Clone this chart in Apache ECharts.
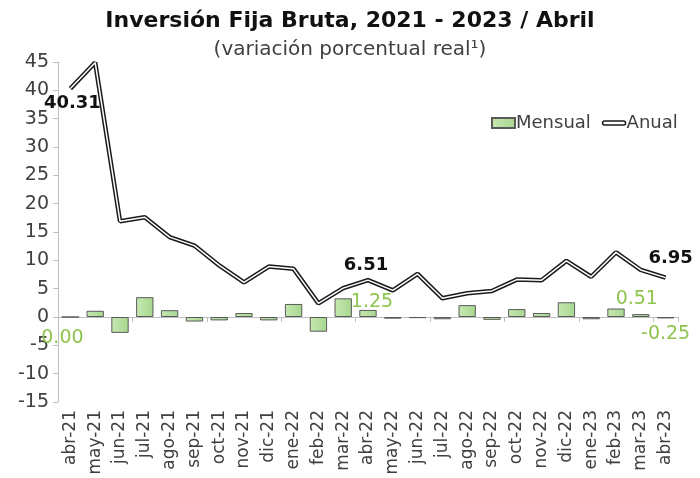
<!DOCTYPE html>
<html>
<head>
<meta charset="utf-8">
<script src="https://cdn.jsdelivr.net/npm/echarts@6/dist/echarts.min.js"></script>
<style>html,body{margin:0;padding:0;background:#fff;}#c{width:700px;height:478px;}</style>
</head>
<body>
<div id="c"></div>
<script>
const categories = ['abr-21','may-21','jun-21','jul-21','ago-21','sep-21','oct-21','nov-21','dic-21','ene-22','feb-22','mar-22','abr-22','may-22','jun-22','jul-22','ago-22','sep-22','oct-22','nov-22','dic-22','ene-23','feb-23','mar-23','abr-23'];
const mensual = [0.00, 1.1, -2.8, 3.5, 1.2, -0.8, -0.6, 0.7, -0.6, 2.3, -2.6, 3.3, 1.25, -0.3, -0.2, -0.4, 2.1, -0.5, 1.4, 0.7, 2.6, -0.4, 1.5, 0.51, -0.25];
const anual = [40.31, 44.9, 16.9, 17.6, 14.1, 12.6, 9.1, 6.1, 8.9, 8.5, 2.4, 5.1, 6.51, 4.7, 7.6, 3.3, 4.2, 4.6, 6.6, 6.5, 9.9, 7.1, 11.4, 8.3, 6.95];
const yTicks = { min: -15, max: 45, step: 5 };

const FONT = '"DejaVu Sans", sans-serif';
const GREEN = '#8fc44f';

const anualLabels = {
  0: { position: 'bottom', offset: [2, 0] },
  12: { position: 'top', offset: [-2, 0] },
  24: { position: 'top', offset: [5, -5] }
};
const mensualLabels = {
  0: { position: 'bottom', offset: [-8, 6] },
  12: { position: 'top', offset: [4, 7] },
  23: { position: 'top', offset: [-4, -1] },
  24: { position: 'bottom', offset: [0, 1] }
};

const anualData = anual.map((v, i) => {
  const l = anualLabels[i];
  if (!l) return v;
  return { value: v, label: { show: true, position: l.position, offset: l.offset,
    formatter: p => p.value.toFixed(2), color: '#111', fontWeight: 'bold', fontSize: 18, fontFamily: FONT } };
});
const mensualData = mensual.map((v, i) => {
  const l = mensualLabels[i];
  if (!l) return v;
  return { value: v, label: { show: true, position: l.position, offset: l.offset,
    formatter: p => p.value.toFixed(2), color: GREEN, fontWeight: 'normal', fontSize: 19, fontFamily: FONT } };
});

const chart = echarts.init(document.getElementById('c'));
chart.setOption({
  animation: false,
  backgroundColor: '#fff',
  title: [
    { text: 'Inversión Fija Bruta, 2021 - 2023 / Abril', left: 'center', top: 5,
      textStyle: { fontFamily: FONT, fontWeight: 'bold', fontSize: 22, color: '#111' } },
    { text: '(variación porcentual real\u00b9)', left: 'center', top: 35,
      textStyle: { fontFamily: FONT, fontWeight: 'normal', fontSize: 20, color: '#404040' } }
  ],
  legend: {
    left: 486, top: 109, itemWidth: 23, itemHeight: 10, itemGap: 11,
    textStyle: { fontFamily: FONT, fontSize: 18, color: '#404040', padding: [0,0,0,-4] },
    data: [
      { name: 'Mensual', icon: 'rect' },
      { name: 'Anual', icon: 'path://M2,0 L21,0 A2,2 0 0 1 21,4 L2,4 A2,2 0 0 1 2,0 Z',
        itemStyle: { color: '#ffffff', borderColor: '#1a1a1a', borderWidth: 1.5 } }
    ]
  },
  grid: { left: 58, right: 22, top: 62, bottom: 76, containLabel: false },
  xAxis: [
    { type: 'category', data: categories, position: 'bottom',
      axisLine: { onZero: true, lineStyle: { color: '#bfbfbf', width: 1 } },
      axisTick: { show: true, length: 5, lineStyle: { color: '#bfbfbf' } },
      axisLabel: { show: false }, splitLine: { show: false } },
    { type: 'category', data: categories, position: 'bottom',
      axisLine: { show: false, onZero: false }, axisTick: { show: false },
      axisLabel: { show: true, rotate: 90, margin: 8, interval: 0, fontFamily: FONT, fontSize: 17, color: '#404040' },
      splitLine: { show: false } }
  ],
  yAxis: {
    type: 'value', min: yTicks.min, max: yTicks.max, interval: yTicks.step,
    axisLine: { show: true, lineStyle: { color: '#bfbfbf' } },
    axisTick: { show: true, length: 5, lineStyle: { color: '#bfbfbf' } },
    axisLabel: { fontFamily: FONT, fontSize: 19, color: '#404040', margin: 9 },
    splitLine: { show: false }
  },
  series: [
    { name: 'Mensual', type: 'bar', xAxisIndex: 0, data: mensualData, barCategoryGap: '30%',
      itemStyle: {
        color: new echarts.graphic.LinearGradient(0, 0, 1, 0, [
          { offset: 0, color: '#c6e8b2' }, { offset: 1, color: '#a6d78e' }]),
        borderColor: '#5a5a5a', borderWidth: 1
      } },
    { name: 'Anual', type: 'line', xAxisIndex: 0, data: anualData, symbol: 'circle', symbolSize: 1, showSymbol: true,
      lineStyle: { color: '#1a1a1a', width: 4.5 }, itemStyle: { color: '#1a1a1a' }, z: 3 },
    { name: 'AnualInner', type: 'line', xAxisIndex: 0, data: anual, symbol: 'none', silent: true,
      lineStyle: { color: '#ffffff', width: 1.5 }, z: 4 }
  ]
});
</script>
</body>
</html>
